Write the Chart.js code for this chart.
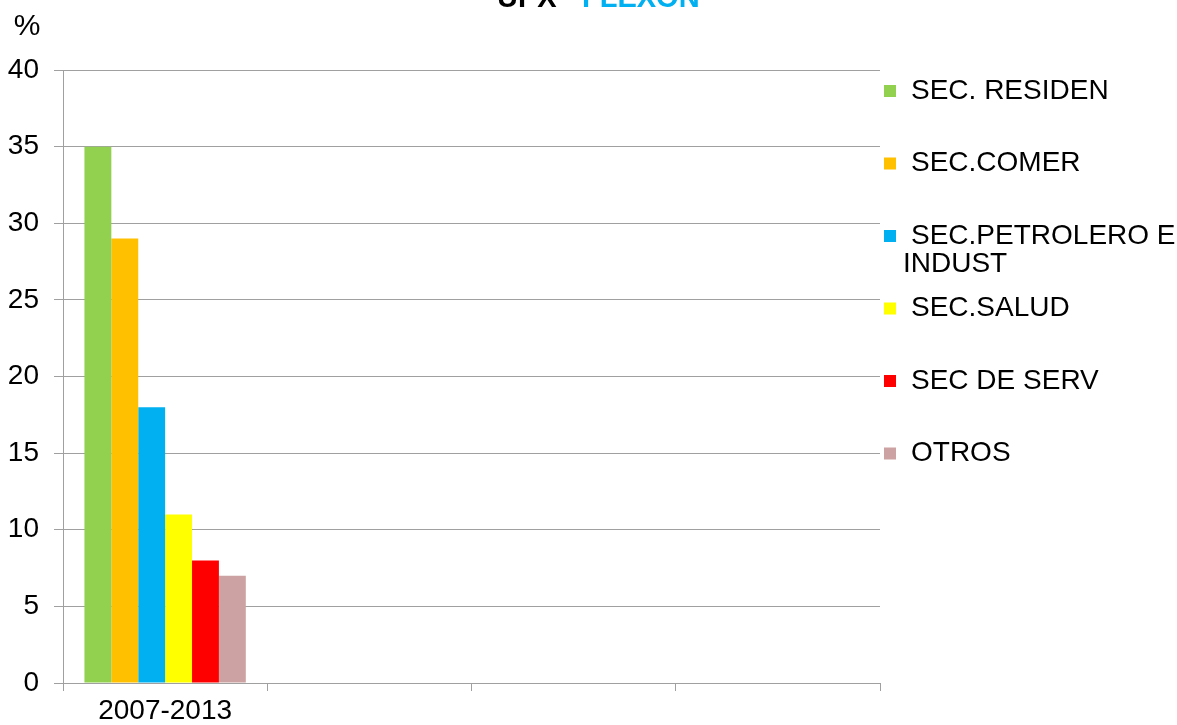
<!DOCTYPE html>
<html>
<head>
<meta charset="utf-8">
<script src="https://cdn.jsdelivr.net/npm/chart.js@4"></script>
<style>
  html, body { margin: 0; padding: 0; background: #fff; overflow: hidden; }
  #wrap { width: 1177px; height: 725px; position: relative; }
</style>
</head>
<body>
<div id="wrap"><canvas id="myChart" width="1177" height="725"></canvas></div>
<script>
// datos
const periods = ['2007-2013', '', '', ''];
const sectors = ['SEC. RESIDEN', 'SEC.COMER', ['SEC.PETROLERO E', 'INDUST'], 'SEC.SALUD', 'SEC DE SERV', 'OTROS'];
const sharePct = [35, 29, 18, 11, 8, 7];
const sectorColors = ['#92D050', '#FFC000', '#00B0F0', '#FFFF00', '#FF0000', '#CDA2A2'];
const yTicks = [0, 5, 10, 15, 20, 25, 30, 35, 40];

const FONT = '"Liberation Sans", Arial, sans-serif';

// un dataset por sector, solo la primera categoria tiene valor
const datasets = sectors.map((s, i) => ({
    label: Array.isArray(s) ? s.join(' ') : s,
    data: periods.map((p, j) => j === 0 ? sharePct[i] : null),
    backgroundColor: sectorColors[i],
    borderWidth: 0
}));

// titulo, % y leyenda dibujados a mano
const extras = {
    id: 'extras',
    afterDraw(chart) {
        const ctx = chart.ctx;
        ctx.save();
        // titulo (cortado arriba como en la imagen)
        ctx.font = 'bold 29px ' + FONT;
        ctx.textBaseline = 'alphabetic';
        ctx.textAlign = 'left';
        ctx.fillStyle = '#000';
        ctx.fillText('UPX', 497, 6.5);
        ctx.fillStyle = '#00B0F0';
        ctx.fillText('FLEXON', 582, 6.5);

        // unidad
        ctx.font = '30px ' + FONT;
        ctx.fillStyle = '#000';
        ctx.textAlign = 'center';
        ctx.textBaseline = 'middle';
        ctx.fillText('%', 27, 27);

        // leyenda
        ctx.font = '28px ' + FONT;
        const x0 = chart.chartArea.right + 4;
        let y = 91;
        ctx.textAlign = 'left';
        sectors.forEach((s, i) => {
            ctx.fillStyle = sectorColors[i];
            ctx.fillRect(x0, y - 6, 12, 12);
            ctx.fillStyle = '#000';
            const lines = Array.isArray(s) ? s : [s];
            lines.forEach((ln, k) => {
                ctx.fillText(ln, k === 0 ? x0 + 27 : x0 + 19, y + k * 28);
            });
            y += 72.5;
        });
        ctx.restore();
    }
};

new Chart(document.getElementById('myChart'), {
    type: 'bar',
    data: { labels: periods, datasets: datasets },
    options: {
        responsive: false,
        animation: false,
        events: [],
        layout: { padding: { top: 70, right: 297, left: 0, bottom: 0 } },
        plugins: { legend: { display: false }, tooltip: { enabled: false } },
        datasets: { bar: { categoryPercentage: 0.79, barPercentage: 1.0 } },
        scales: {
            x: {
                grid: { offset: true, drawOnChartArea: false, drawTicks: true, tickLength: 8, color: '#A0A0A0' },
                border: { color: '#A0A0A0' },
                ticks: { color: '#000', font: { family: FONT, size: 28 }, padding: 3, maxRotation: 0 },
                afterFit(scale) { scale.height = 725 - 683; }
            },
            y: {
                min: 0, max: 40,
                afterBuildTicks(scale) { scale.ticks = yTicks.map(v => ({ value: v })); },
                grid: { color: '#A0A0A0', tickLength: 9 },
                border: { color: '#A0A0A0' },
                ticks: { color: '#000', font: { family: FONT, size: 28 }, padding: 15 },
                afterFit(scale) { scale.width = 63; }
            }
        }
    },
    plugins: [extras]
});
</script>
</body>
</html>
